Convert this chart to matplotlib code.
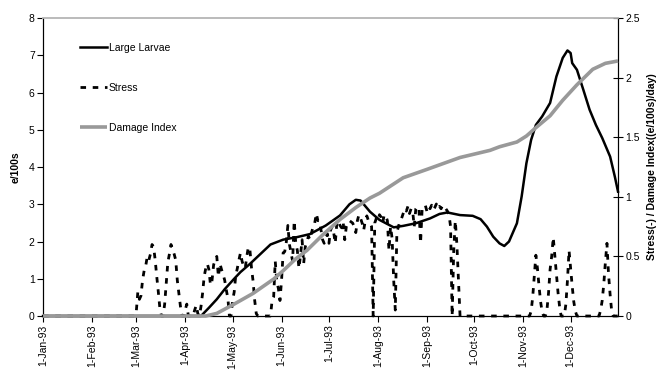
import matplotlib
matplotlib.use("Agg")
import matplotlib.pyplot as plt
import numpy as np

plt.rcParams['font.family'] = ['Liberation Sans', 'DejaVu Sans']

# month tick positions (day of year, 0 = 1-Jan-93) and labels
month_days = [0, 31, 59, 90, 120, 151, 181, 212, 243, 273, 304, 334]
month_labels = ["1-Jan-93", "1-Feb-93", "1-Mar-93", "1-Apr-93", "1-May-93", "1-Jun-93",
                "1-Jul-93", "1-Aug-93", "1-Sep-93", "1-Oct-93", "1-Nov-93", "1-Dec-93"]

# Large Larvae (e/100s, left axis)
ll_day = [0, 100, 105, 110, 115, 121, 125, 131, 138, 144, 152, 161, 169, 179, 188, 194, 198,
          201, 207, 213, 222, 228, 236, 245, 251, 256, 264, 272, 277, 281, 285, 289, 292, 295,
          300, 303, 306, 309, 312, 316, 321, 325, 329, 332, 334, 335, 338, 342, 346, 350, 354,
          359, 362, 364]
ll_val = [0, 0, 0.22, 0.45, 0.72, 1.0, 1.18, 1.4, 1.68, 1.92, 2.05, 2.12, 2.2, 2.43, 2.7, 3.0,
          3.12, 3.1, 2.8, 2.58, 2.38, 2.42, 2.49, 2.62, 2.74, 2.78, 2.71, 2.69, 2.6, 2.4, 2.13,
          1.95, 1.88, 2.0, 2.49, 3.21, 4.1, 4.73, 5.13, 5.36, 5.72, 6.43, 6.93, 7.13, 7.06, 6.79,
          6.61, 6.08, 5.54, 5.13, 4.78, 4.28, 3.74, 3.34]

# Damage Index ((e/100s)/day, right axis)
di_day = [0, 103, 110, 121, 133, 146, 152, 160, 167, 177, 188, 198, 207, 213, 228, 243, 264,
          283, 289, 300, 306, 312, 321, 329, 338, 348, 356, 364]
di_val = [0, 0, 0.022, 0.10, 0.19, 0.31, 0.38, 0.48, 0.55, 0.68, 0.81, 0.91, 0.99, 1.03, 1.16,
          1.23, 1.33, 1.39, 1.42, 1.46, 1.51, 1.58, 1.68, 1.81, 1.94, 2.07, 2.12, 2.14]

# Stress (-, right axis), daily values; days not listed are 0
stress_start = 59
stress_vals = [
    0.03, 0.2, 0.14, 0.17, 0.3, 0.38, 0.42, 0.5, 0.47, 0.52, 0.6, 0.58, 0.47, 0.33, 0.2, 0.06,  # 59-74
    0.0, 0.0, 0.1, 0.27, 0.45, 0.52, 0.6, 0.56, 0.52, 0.47, 0.3, 0.19, 0.08, 0.0, 0.0, 0.05,    # 75-90
    0.1, 0.0, 0.0, 0.0, 0.0, 0.05, 0.09, 0.02, 0.0, 0.08,                                         # 91-100
    0.19, 0.33, 0.4, 0.44, 0.39, 0.26, 0.3, 0.43, 0.47, 0.5, 0.33, 0.44, 0.39, 0.35, 0.3, 0.22,  # 101-116
    0.15, 0.0, 0.0, 0.13, 0.2, 0.34, 0.4, 0.47, 0.53, 0.46, 0.42, 0.4, 0.5, 0.58, 0.55, 0.4,      # 117-132
    0.29, 0.13, 0.02, 0, 0, 0, 0, 0, 0, 0, 0, 0, 0.13, 0.16, 0.46, 0.29,                          # 133-148
    0.23, 0.13, 0.3, 0.53, 0.54, 0.62, 0.76, 0.6, 0.53, 0.46, 0.8, 0.61, 0.55, 0.4, 0.51, 0.64,   # 149-164
    0.44, 0.58, 0.62, 0.67, 0.64, 0.7, 0.75, 0.78, 0.86, 0.8, 0.8, 0.72, 0.64, 0.61, 0.65, 0.69,  # 165-180
    0.61, 0.72, 0.75, 0.7, 0.61, 0.78, 0.8, 0.76, 0.74, 0.79, 0.64, 0.75, 0.78, 0.8, 0.79, 0.78,  # 181-196
    0.75, 0.7, 0.8, 0.85, 0.82, 0.78, 0.72, 0.8, 0.84, 0.8, 0.78, 0.75, 0.0, 0.78, 0.82, 0.8,     # 197-212
    0.85, 0.83, 0.78, 0.85, 0.84, 0.8, 0.55, 0.75, 0.65, 0.3, 0.05, 0.7, 0.75, 0.8, 0.82, 0.86,   # 213-228
    0.9, 0.88, 0.92, 0.86, 0.9, 0.88, 0.75, 0.9, 0.92, 0.89, 0.61, 0.9, 0.91, 0.93, 0.88, 0.92,   # 229-244
    0.9, 0.93, 0.89, 0.91, 0.94, 0.9, 0.92, 0.9, 0.93, 0.91, 0.9, 0.88, 0.85, 0.75, 0.0, 0.55,    # 245-260
    0.8, 0.6, 0.3, 0.0,                                                                           # 261-264
]
stress_late_start = 309
stress_late_vals = [
    0.04, 0.16, 0.33, 0.51, 0.4, 0.25, 0.12, 0.03, 0, 0, 0.05, 0.19, 0.39, 0.5, 0.66, 0.51,      # 309-324
    0.36, 0.2, 0.08, 0, 0, 0, 0.1, 0.3, 0.55, 0.4, 0.25, 0.12, 0.04, 0, 0, 0,                     # 325-340
    0, 0, 0, 0, 0, 0, 0, 0, 0, 0, 0, 0, 0.05, 0.13, 0.27, 0.45,                                   # 341-356
    0.61, 0.35, 0.18, 0.04, 0, 0, 0, 0,                                                           # 357-364
]

stress_day = np.arange(0, 365)
stress = np.zeros(365)
stress[stress_start:stress_start + len(stress_vals)] = stress_vals
stress[stress_late_start:stress_late_start + len(stress_late_vals)] = stress_late_vals

fig = plt.figure(figsize=(6.59, 3.72), dpi=100)
ax = fig.add_axes([0.0653, 0.1505, 0.8725, 0.801])
ax2 = ax.twinx()

fs = 7.5
l1, = ax.plot(ll_day, ll_val, color='black', lw=1.8, label='Large Larvae', clip_on=False,
              zorder=3, solid_joinstyle='round')
l2, = ax2.plot(stress_day, stress, color='black', lw=2.0, linestyle=(0, (2.0, 2.4)),
               label='Stress', clip_on=False, zorder=2)
l3, = ax2.plot(di_day, di_val, color='#999999', lw=2.6, label='Damage Index', clip_on=False,
               solid_capstyle='butt', solid_joinstyle='round', zorder=4)

ax.set_xlim(0, 364)
ax.set_ylim(0, 8)
ax2.set_ylim(0, 2.5)
ax.set_yticks(range(0, 9))
ax2.set_yticks([0, 0.5, 1, 1.5, 2, 2.5])
ax2.set_yticklabels(["0", "0.5", "1", "1.5", "2", "2.5"])
ax.set_xticks(month_days)
ax.set_xticklabels(month_labels, rotation=90, fontsize=fs)
ax.tick_params(axis='y', labelsize=fs, direction='out', length=4, width=0.8, pad=2)
ax.tick_params(axis='x', direction='out', length=4, width=0.8, pad=2)
ax2.tick_params(axis='y', labelsize=fs, direction='inout', length=7, width=0.8, pad=2)

for a in (ax, ax2):
    a.spines['top'].set_color('#bbbbbb')
    a.spines['top'].set_linewidth(1.2)
    a.spines['left'].set_linewidth(0.8)
    a.spines['right'].set_linewidth(0.8)
    a.spines['bottom'].set_linewidth(0.8)

ax.set_ylabel('e/100s', fontsize=fs, fontweight='bold', labelpad=6)
ax2.set_ylabel('Stress(-) / Damage Index((e/100s)/day)', fontsize=fs, fontweight='bold', labelpad=5)

ax2.legend(handles=[l1, l2, l3], loc='upper left', bbox_to_anchor=(0.055, 0.935),
           frameon=False, fontsize=fs, labelspacing=2.9, handlelength=2.6,
           handletextpad=0.15, borderpad=0)

fig.savefig('out.png', dpi=100)
